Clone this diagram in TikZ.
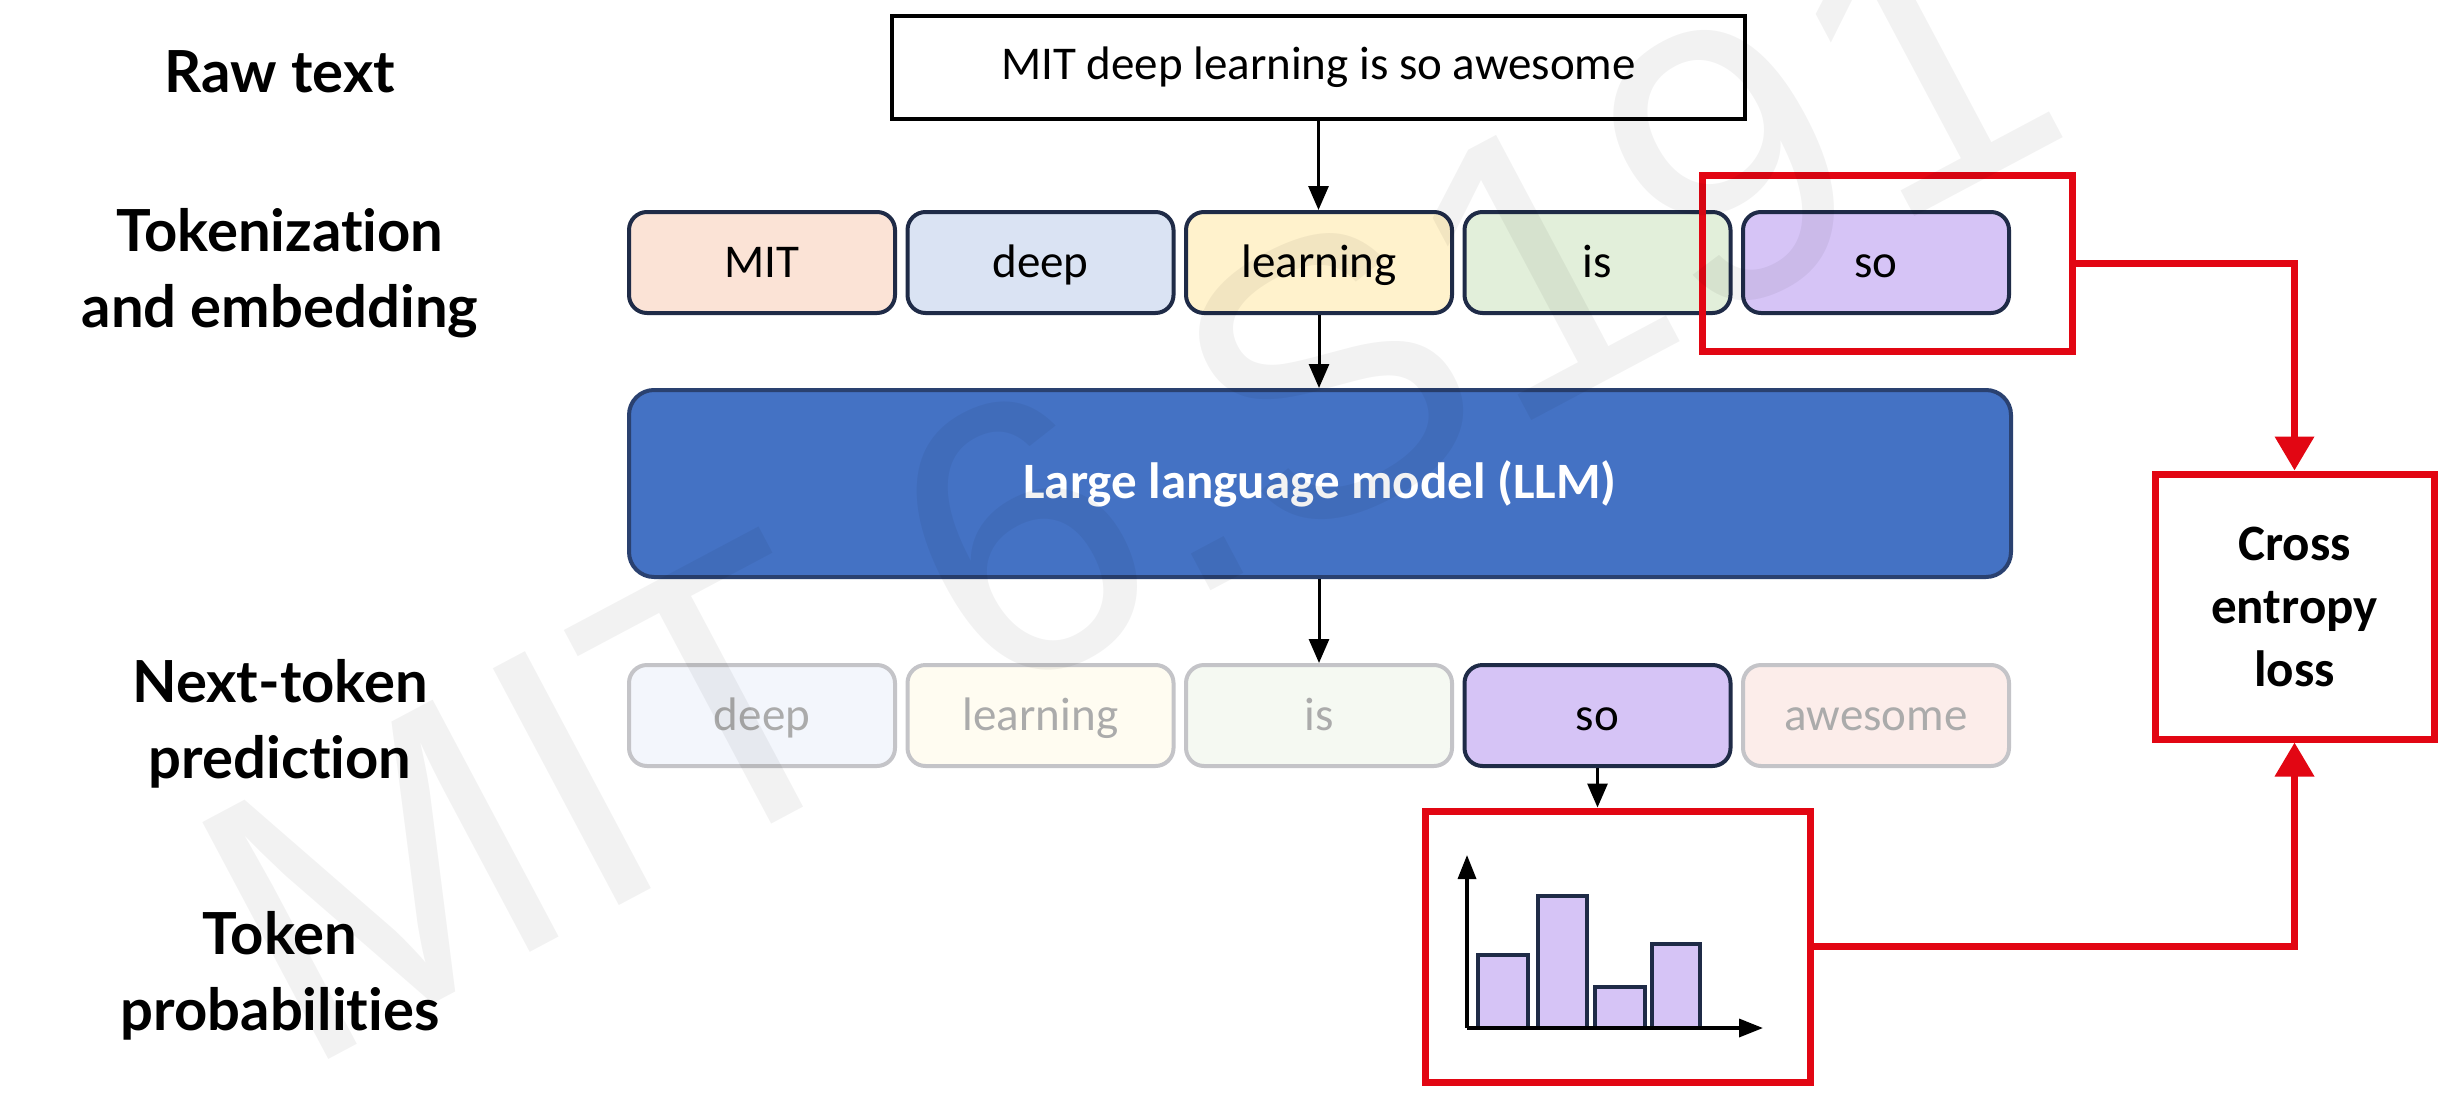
\documentclass[tikz,border=0pt]{standalone}
\usepackage{fontspec}
\setmainfont{Carlito}
\newfontfamily\lblfont{Lato}[Ligatures=NoCommon]
\newfontfamily\wmfont{Liberation Sans}
\usetikzlibrary{arrows.meta}
\definecolor{navy}{HTML}{1F2B47}
\definecolor{cMIT}{HTML}{FBE3D6}
\definecolor{cdeep}{HTML}{DAE3F3}
\definecolor{clearn}{HTML}{FFF2CC}
\definecolor{cis}{HTML}{E2EFDA}
\definecolor{cso}{HTML}{D6C4F6}
\definecolor{fdeep}{HTML}{F3F6FC}
\definecolor{flearn}{HTML}{FFFCF1}
\definecolor{fis}{HTML}{F5F9F2}
\definecolor{fawe}{HTML}{FCEDEA}
\definecolor{fborder}{HTML}{C4C4C8}
\definecolor{ftext}{HTML}{ABABAB}
\definecolor{llmblue}{HTML}{4472C4}
\definecolor{llmborder}{HTML}{2A4170}
\definecolor{redc}{HTML}{E20613}
\tikzset{
  tok/.style={draw=navy, line width=4pt, rounded corners=18pt, minimum width=266pt,
    minimum height=101pt, inner sep=0pt, text height=33pt, text depth=3pt,
    font=\fontsize{47}{56}\selectfont, text=black},
  ftok/.style={tok, draw=fborder, text=ftext},
  redbox/.style={draw=redc, line width=7pt, inner sep=0pt},
  lbl/.style={align=center, inner sep=0pt, font=\lblfont\bfseries\fontsize{58}{76}\selectfont},
  arr/.style={line width=3pt, -{Triangle[length=24pt,width=20pt]}},
  rarr/.style={draw=redc, line width=7pt, -{Triangle[length=34pt,width=38pt]}},
  bar/.style={fill=cso, draw=navy, line width=3.5pt},
  wm/.style={inner sep=0pt, text=black, text opacity=0.05, font=\wmfont\fontsize{390}{390}\selectfont}
}
\begin{document}
\begin{tikzpicture}[x=1pt,y=-1pt]
\path[use as bounding box, fill=white] (0,0) rectangle (2464,1092);

% left labels
\node[lbl] (l1) at (280,72) {Raw text};
\node[lbl] (l2) at (280,273) {Tokenization\\and embedding};
\node[lbl] (l3) at (280,724) {Next-token\\prediction};
\node[lbl] (l4) at (280,976) {Token\\probabilities};

% raw text
\node[draw=black, line width=4pt, minimum width=853pt, minimum height=103pt, inner sep=0pt,
  font=\fontsize{47}{56}\selectfont] (raw) at (1318.5,67.5) {MIT deep learning is so awesome};

% token row
\node[tok, fill=cMIT]   (t1) at (762,262.5) {MIT};
\node[tok, fill=cdeep]  (t2) at (1040.5,262.5) {deep};
\node[tok, fill=clearn] (t3) at (1319,262.5) {learning};
\node[tok, fill=cis]    (t4) at (1597.5,262.5) {is};
\node[tok, fill=cso]    (t5) at (1876,262.5) {so};

% LLM
\node[draw=llmborder, fill=llmblue, line width=4pt, rounded corners=25pt, minimum width=1382pt,
  minimum height=187pt, inner sep=0pt, text=white, font=\bfseries\fontsize{51}{60}\selectfont]
  (llm) at (1320,483.5) {Large language model (LLM)};

% prediction row
\node[ftok, fill=fdeep]  (b1) at (762,715.5) {deep};
\node[ftok, fill=flearn] (b2) at (1040.5,715.5) {learning};
\node[ftok, fill=fis]    (b3) at (1319,715.5) {is};
\node[tok, fill=cso]     (b4) at (1597.5,715.5) {so};
\node[ftok, fill=fawe]   (b5) at (1876,715.5) {awesome};

% red boxes
\node[redbox, minimum width=370pt, minimum height=176pt] (sored) at (1887,263) {};
\node[redbox, minimum width=385pt, minimum height=271pt] (hist) at (1617.5,946.5) {};
\node[redbox, minimum width=279pt, minimum height=265pt, align=center,
  font=\bfseries\fontsize{51}{63}\selectfont] (ce) at (2294.5,606.5) {Cross\\entropy\\loss};

% histogram
\draw[bar] (1478,1028) rectangle (1528,955);
\draw[bar] (1538,1028) rectangle (1587,896);
\draw[bar] (1595,1028) rectangle (1645,987);
\draw[bar] (1652,1028) rectangle (1700,944);
\coordinate (o) at (1467,1028);
\coordinate (ytop) at (1467,855);
\coordinate (xend) at (1763,1028);
\draw[line width=3.5pt, -{Triangle[length=24pt,width=18pt]}] (o) -- (ytop);
\draw[line width=3.5pt, -{Triangle[length=24pt,width=18pt]}] (o) -- (xend);

% connectors
\draw[arr] (raw.south) -- (raw.south |- t3.north);
\draw[arr] (t3.south) -- (t3.south |- llm.north);
\draw[arr] (llm.south -| b3.north) -- (b3.north);
\draw[arr] (b4.south) -- (b4.south |- hist.north);
\draw[rarr] (sored.east) -| (ce.north);
\draw[rarr] (hist.east) -| (ce.south);

% watermark
\node[wm, anchor=base west, rotate=28] (wmark) at (300,1075) {MIT 6.S191};
\end{tikzpicture}
\end{document}
